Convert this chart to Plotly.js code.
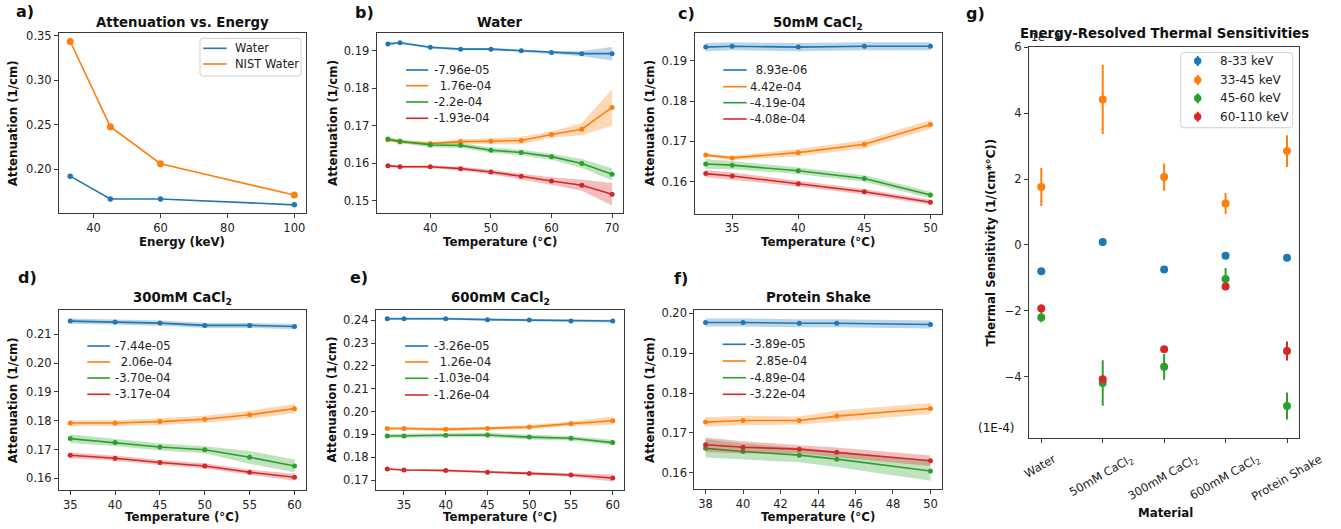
<!DOCTYPE html>
<html><head><meta charset="utf-8">
<script src="https://cdn.plot.ly/plotly-3.0.1.min.js"></script>
<style>html,body{margin:0;padding:0;background:#fff}#chart{width:1341px;height:529px}</style>
</head><body><div id="chart"></div>
<script>
// ================= DATA =================
// a) Attenuation vs. energy
const energyKeV = [33, 45, 60, 100];
const attWater  = [0.1920, 0.1663, 0.1663, 0.1597];
const attNIST   = [0.3436, 0.2477, 0.2060, 0.1707];
const energyLegend = ['Water', 'NIST Water'];

// energy bins
const binLabels = ['8-33 keV', '33-45 keV', '45-60 keV', '60-110 keV'];

// b) Water
const tWater = [33, 35, 40, 45, 50, 55, 60, 65, 70];
const water_8_33      = [0.1918, 0.1921, 0.1909, 0.1904, 0.1904, 0.1900, 0.1895, 0.1892, 0.1892];
const water_8_33_sd   = [0.0003, 0.0003, 0.0003, 0.0003, 0.0003, 0.0003, 0.0004, 0.0007, 0.0018];
const water_33_45     = [0.1663, 0.1657, 0.1653, 0.1658, 0.1659, 0.1661, 0.1677, 0.1691, 0.1749];
const water_33_45_sd  = [0.0004, 0.0004, 0.0004, 0.0006, 0.0008, 0.0010, 0.0008, 0.0016, 0.0049];
const water_45_60     = [0.1665, 0.1659, 0.1649, 0.1648, 0.1635, 0.1629, 0.1618, 0.1600, 0.1571];
const water_45_60_sd  = [0.0004, 0.0005, 0.0006, 0.0007, 0.0007, 0.0007, 0.0008, 0.0012, 0.0016];
const water_60_110    = [0.1594, 0.1591, 0.1591, 0.1586, 0.1577, 0.1566, 0.1553, 0.1542, 0.1518];
const water_60_110_sd = [0.0003, 0.0003, 0.0004, 0.0005, 0.0006, 0.0008, 0.0010, 0.0015, 0.0030];
const waterLabels = ['-7.96e-05', '\u20021.76e-04', '-2.2e-04', '-1.93e-04'];

// c) 50mM CaCl2
const t50 = [33, 35, 40, 45, 50];
const c50_8_33      = [0.1934, 0.1936, 0.1934, 0.1936, 0.1936];
const c50_8_33_sd   = [0.0010, 0.0010, 0.0010, 0.0010, 0.0010];
const c50_33_45     = [0.1666, 0.1659, 0.1672, 0.1693, 0.1742];
const c50_33_45_sd  = [0.0004, 0.0005, 0.0009, 0.0010, 0.0011];
const c50_45_60     = [0.1644, 0.1641, 0.1627, 0.1608, 0.1567];
const c50_45_60_sd  = [0.0012, 0.0010, 0.0008, 0.0008, 0.0008];
const c50_60_110    = [0.1620, 0.1614, 0.1595, 0.1575, 0.1549];
const c50_60_110_sd = [0.0009, 0.0009, 0.0007, 0.0007, 0.0006];
const c50Labels = ['\u20028.93e-06', '4.42e-04', '-4.19e-04', '-4.08e-04'];

// d) 300mM CaCl2
const t300 = [35, 40, 45, 50, 55, 60];
const c300_8_33      = [0.2146, 0.2143, 0.2139, 0.2131, 0.2131, 0.2127];
const c300_8_33_sd   = [0.0009, 0.0009, 0.0009, 0.0009, 0.0009, 0.0009];
const c300_33_45     = [0.1792, 0.1792, 0.1797, 0.1805, 0.1821, 0.1842];
const c300_33_45_sd  = [0.0010, 0.0010, 0.0012, 0.0012, 0.0014, 0.0016];
const c300_45_60     = [0.1738, 0.1724, 0.1709, 0.1699, 0.1673, 0.1643];
const c300_45_60_sd  = [0.0015, 0.0012, 0.0012, 0.0012, 0.0022, 0.0022];
const c300_60_110    = [0.1680, 0.1670, 0.1655, 0.1643, 0.1621, 0.1604];
const c300_60_110_sd = [0.0010, 0.0009, 0.0009, 0.0009, 0.0009, 0.0012];
const c300Labels = ['-7.44e-05', '\u20022.06e-04', '-3.70e-04', '-3.17e-04'];

// e) 600mM CaCl2
const t600 = [33, 35, 40, 45, 50, 55, 60];
const c600_8_33      = [0.2407, 0.2407, 0.2407, 0.2403, 0.2401, 0.2397, 0.2397];
const c600_8_33_sd   = [0.0005, 0.0005, 0.0005, 0.0005, 0.0005, 0.0005, 0.0006];
const c600_33_45     = [0.1926, 0.1926, 0.1922, 0.1926, 0.1932, 0.1947, 0.1960];
const c600_33_45_sd  = [0.0007, 0.0007, 0.0008, 0.0008, 0.0009, 0.0010, 0.0018];
const c600_45_60     = [0.1893, 0.1893, 0.1896, 0.1897, 0.1888, 0.1883, 0.1864];
const c600_45_60_sd  = [0.0009, 0.0009, 0.0009, 0.0010, 0.0010, 0.0010, 0.0012];
const c600_60_110    = [0.1748, 0.1744, 0.1742, 0.1734, 0.1729, 0.1722, 0.1709];
const c600_60_110_sd = [0.0004, 0.0004, 0.0005, 0.0005, 0.0006, 0.0008, 0.0015];
const c600Labels = ['-3.26e-05', '\u20021.26e-04', '-1.03e-04', '-1.26e-04'];

// f) Protein Shake
const tPS = [38, 40, 43, 45, 50];
const ps_8_33      = [0.1977, 0.1977, 0.1975, 0.1975, 0.1972];
const ps_8_33_sd   = [0.0010, 0.0010, 0.0010, 0.0010, 0.0010];
const ps_33_45     = [0.1727, 0.1731, 0.1731, 0.1742, 0.1761];
const ps_33_45_sd  = [0.0012, 0.0012, 0.0010, 0.0014, 0.0014];
const ps_45_60     = [0.1661, 0.1653, 0.1644, 0.1634, 0.1604];
const ps_45_60_sd  = [0.0023, 0.0020, 0.0018, 0.0020, 0.0024];
const ps_60_110    = [0.1670, 0.1664, 0.1659, 0.1651, 0.1630];
const ps_60_110_sd = [0.0018, 0.0015, 0.0010, 0.0012, 0.0013];
const psLabels = ['-3.89e-05', '\u20022.85e-04', '-4.89e-04', '-3.22e-04'];

// g) Energy-resolved thermal sensitivities (units of 1e-4 1/(cm*°C))
const materials = ['Water', '50mM CaCl<sub>2</sub>', '300mM CaCl<sub>2</sub>', '600mM CaCl<sub>2</sub>', 'Protein Shake'];
const sens_8_33      = [-0.796, 0.0893, -0.744, -0.326, -0.389];
const sens_8_33_err  = [0.06, 0.06, 0.06, 0.06, 0.06];
const sens_33_45     = [1.76, 4.42, 2.06, 1.26, 2.85];
const sens_33_45_err = [0.58, 1.05, 0.41, 0.32, 0.48];
const sens_45_60     = [-2.20, -4.19, -3.70, -1.03, -4.89];
const sens_45_60_err = [0.15, 0.69, 0.39, 0.33, 0.41];
const sens_60_110    = [-1.93, -4.08, -3.17, -1.26, -3.22];
const sens_60_110_err= [0.12, 0.06, 0.10, 0.06, 0.29];

// ================= STYLE / LAYOUT =================
const W = 1341, H = 529;
const X = v => v / W, Y = v => 1 - v / H;
const COLORS = ['#1f77b4', '#ff7f0e', '#2ca02c', '#d62728'];
const FILLS = ['rgba(31,119,180,0.3)', 'rgba(255,127,14,0.3)', 'rgba(44,160,44,0.3)', 'rgba(214,39,40,0.3)'];
const FONT = 'DejaVu Sans, sans-serif';
const TXT = '#222';

// axes pixel boxes [left, top, right, bottom]
const boxes = {
  1: [59, 33, 305.5, 213],
  2: [376.7, 33, 623.3, 213],
  3: [694.5, 33, 941.7, 213.5],
  4: [59, 310, 305.7, 490],
  5: [376, 310, 624, 490],
  6: [694.3, 310, 941.7, 489],
  7: [1029, 46.7, 1299.3, 438.3]
};

const traces = [];
const shapes = [];
const annotations = [];

function ann(text, x, y, opt) {
  annotations.push(Object.assign({
    text: text, x: X(x), y: Y(y), xref: 'paper', yref: 'paper',
    showarrow: false, xanchor: 'center', yanchor: 'middle',
    font: {family: FONT, size: 11, color: TXT}
  }, opt || {}));
}

function bandPanel(ax, xs, series, sds) {
  const xr = 'x' + ax, yr = 'y' + ax;
  series.forEach((ys, i) => {
    const sd = sds[i];
    const up = ys.map((v, k) => v + sd[k]);
    const lo = ys.map((v, k) => v - sd[k]);
    traces.push({
      x: xs.concat(xs.slice().reverse()), y: up.concat(lo.slice().reverse()),
      xaxis: xr, yaxis: yr, mode: 'lines', fill: 'toself', fillcolor: FILLS[i],
      line: {width: 0, color: FILLS[i]}, hoverinfo: 'skip'
    });
    traces.push({
      x: xs, y: ys, xaxis: xr, yaxis: yr, mode: 'lines+markers',
      line: {color: COLORS[i], width: 1.6}, marker: {color: COLORS[i], size: 5}
    });
  });
}

function lineLegend(labels, lx0, lx1, tx, ys, colors) {
  labels.forEach((lab, i) => {
    shapes.push({type: 'line', xref: 'paper', yref: 'paper', layer: 'above',
      x0: X(lx0), x1: X(lx1), y0: Y(ys[i]), y1: Y(ys[i]),
      line: {color: colors[i], width: 1.6}});
    ann(lab, tx, ys[i], {xanchor: 'left', font: {family: FONT, size: 11.5, color: TXT}});
  });
}

function roundRect(x0, y0, x1, y1, r) {
  const p = (a, b) => X(a) + ',' + Y(b);
  return 'M' + p(x0 + r, y0) + ' L' + p(x1 - r, y0) + ' Q' + p(x1, y0) + ' ' + p(x1, y0 + r) +
    ' L' + p(x1, y1 - r) + ' Q' + p(x1, y1) + ' ' + p(x1 - r, y1) +
    ' L' + p(x0 + r, y1) + ' Q' + p(x0, y1) + ' ' + p(x0, y1 - r) +
    ' L' + p(x0, y0 + r) + ' Q' + p(x0, y0) + ' ' + p(x0 + r, y0) + ' Z';
}

// ---- panel a ----
traces.push({x: energyKeV, y: attWater, xaxis: 'x', yaxis: 'y', mode: 'lines+markers',
  line: {color: COLORS[0], width: 1.6}, marker: {color: COLORS[0], size: 5.5}});
traces.push({x: energyKeV, y: attNIST, xaxis: 'x', yaxis: 'y', mode: 'lines+markers',
  line: {color: COLORS[1], width: 1.6}, marker: {color: COLORS[1], size: 7}});
shapes.push({type: 'path', xref: 'paper', yref: 'paper', layer: 'above',
  path: roundRect(200, 38.3, 301, 76, 3), fillcolor: 'rgba(255,255,255,0.8)',
  line: {color: '#d0d0d0', width: 1}});
lineLegend(energyLegend, 203.3, 226.7, 233, [48.3, 64], COLORS);

// ---- panels b-f ----
bandPanel(2, tWater, [water_8_33, water_33_45, water_45_60, water_60_110],
  [water_8_33_sd, water_33_45_sd, water_45_60_sd, water_60_110_sd]);
bandPanel(3, t50, [c50_8_33, c50_33_45, c50_45_60, c50_60_110],
  [c50_8_33_sd, c50_33_45_sd, c50_45_60_sd, c50_60_110_sd]);
bandPanel(4, t300, [c300_8_33, c300_33_45, c300_45_60, c300_60_110],
  [c300_8_33_sd, c300_33_45_sd, c300_45_60_sd, c300_60_110_sd]);
bandPanel(5, t600, [c600_8_33, c600_33_45, c600_45_60, c600_60_110],
  [c600_8_33_sd, c600_33_45_sd, c600_45_60_sd, c600_60_110_sd]);
bandPanel(6, tPS, [ps_8_33, ps_33_45, ps_45_60, ps_60_110],
  [ps_8_33_sd, ps_33_45_sd, ps_45_60_sd, ps_60_110_sd]);

lineLegend(waterLabels, 406, 428.3, 431.7, [70, 85.7, 102, 118.3], COLORS);
lineLegend(c50Labels, 723.3, 746.7, 748.3, [70, 86.7, 102.7, 119], COLORS);
lineLegend(c300Labels, 87.3, 110, 113.3, [346, 362, 378, 394.3], COLORS);
lineLegend(c600Labels, 405, 428.3, 431.7, [346, 362, 378.3, 395], COLORS);
lineLegend(psLabels, 722.7, 746, 748.3, [344.3, 361, 377.7, 394.3], COLORS);

// ---- panel g ----
[[sens_8_33, sens_8_33_err], [sens_33_45, sens_33_45_err], [sens_45_60, sens_45_60_err], [sens_60_110, sens_60_110_err]]
  .forEach((s, i) => {
    traces.push({x: materials, y: s[0], xaxis: 'x7', yaxis: 'y7', mode: 'markers',
      marker: {color: COLORS[i], size: 8},
      error_y: {type: 'data', array: s[1], visible: true, thickness: 2, width: 0, color: COLORS[i]}});
  });
shapes.push({type: 'path', xref: 'paper', yref: 'paper', layer: 'above',
  path: roundRect(1180.7, 52.7, 1292.7, 127.7, 3), fillcolor: 'rgba(255,255,255,0.8)',
  line: {color: '#d0d0d0', width: 1}});
const gLegY = [61, 80, 98.3, 116.7];
binLabels.forEach((lab, i) => {
  const cx = 1197.7, cy = gLegY[i];
  shapes.push({type: 'line', xref: 'paper', yref: 'paper', layer: 'above',
    x0: X(cx), x1: X(cx), y0: Y(cy - 5), y1: Y(cy + 5), line: {color: COLORS[i], width: 2}});
  shapes.push({type: 'circle', xref: 'paper', yref: 'paper', layer: 'above',
    x0: X(cx - 3.7), x1: X(cx + 3.7), y0: Y(cy + 3.7), y1: Y(cy - 3.7),
    fillcolor: COLORS[i], line: {width: 0}});
  ann(lab, 1218.3, cy, {xanchor: 'left', font: {family: FONT, size: 12, color: TXT}});
});
materials.forEach((m, i) => {
  annotations.push({text: m, x: i, xref: 'x7', y: Y(449), yref: 'paper', yanchor: 'top',
    xanchor: 'center', xshift: -1, textangle: -30, showarrow: false,
    font: {family: FONT, size: 11.5, color: TXT}});
});

// ---- axes ----
const axRanges = {
  1: {x: [29.65, 103.35], y: [0.1505, 0.3532], xt: [40, 60, 80, 100], yt: [0.20, 0.25, 0.30, 0.35]},
  2: {x: [31.15, 71.85], y: [0.1468, 0.1947], xt: [40, 50, 60, 70], yt: [0.15, 0.16, 0.17, 0.18, 0.19]},
  3: {x: [32.15, 50.85], y: [0.1521, 0.1969], xt: [35, 40, 45, 50], yt: [0.16, 0.17, 0.18, 0.19]},
  4: {x: [33.75, 61.25], y: [0.15595, 0.21845], xt: [35, 40, 45, 50, 55, 60], yt: [0.16, 0.17, 0.18, 0.19, 0.20, 0.21]},
  5: {x: [31.65, 61.35], y: [0.16562, 0.24453], xt: [35, 40, 45, 50, 55, 60], yt: [0.17, 0.18, 0.19, 0.20, 0.21, 0.22, 0.23, 0.24]},
  6: {x: [37.4, 50.6], y: [0.1559, 0.20084], xt: [38, 40, 42, 44, 46, 48, 50], yt: [0.16, 0.17, 0.18, 0.19, 0.20]},
  7: {x: [-0.2, 4.2], y: [-5.87, 6.02], xt: null, yt: [-4, -2, 0, 2, 4, 6]}
};
const layout = {
  width: W, height: H, autosize: false, margin: {l: 0, r: 0, t: 0, b: 0},
  paper_bgcolor: '#fff', plot_bgcolor: '#fff', showlegend: false,
  shapes: shapes, annotations: annotations
};
const baseAx = {
  showline: true, mirror: true, linecolor: '#3a3a3a', linewidth: 1,
  ticks: 'outside', ticklen: 4, tickwidth: 1, tickcolor: '#3a3a3a',
  showgrid: false, zeroline: false, fixedrange: true,
  tickfont: {family: FONT, size: 11.5, color: TXT}
};
for (let i = 1; i <= 7; i++) {
  const b = boxes[i], r = axRanges[i], s = i === 1 ? '' : String(i);
  const xa = Object.assign({}, baseAx, {domain: [X(b[0]), X(b[2])], range: r.x, anchor: 'y' + s});
  if (i === 7) {
    Object.assign(xa, {type: 'category', categoryorder: 'array', categoryarray: materials, showticklabels: false});
  } else {
    Object.assign(xa, {tickmode: 'array', tickvals: r.xt});
  }
  const ya = Object.assign({}, baseAx, {domain: [Y(b[3]), Y(b[1])], range: r.y, anchor: 'x' + s,
    tickmode: 'array', tickvals: r.yt, tickformat: i === 7 ? 'd' : '.2f'});
  layout['xaxis' + s] = xa;
  layout['yaxis' + s] = ya;
}

// ---- text: titles, labels, panel letters ----
const bold = t => '<b>' + t + '</b>';
const TF = {family: FONT, size: 13.3, color: '#111'};
const LF = {family: FONT, size: 11.8, color: '#111'};
const PF = {family: FONT, size: 16, color: '#111'};
// offset text partly hidden under the title in panel g (as in the reference)
ann('1e\u22124', 1029, 46, {xanchor: 'left', yanchor: 'bottom', font: {family: FONT, size: 11, color: TXT}});

ann(bold('Attenuation vs. Energy'), 182.3, 22.7, {font: TF});
ann(bold('Water'), 500, 22.7, {font: TF});
ann(bold('50mM CaCl<sub>2</sub>'), 818, 23.5, {font: TF});
ann(bold('300mM CaCl<sub>2</sub>'), 182.3, 298.3, {font: TF});
ann(bold('600mM CaCl<sub>2</sub>'), 500, 298.3, {font: TF});
ann(bold('Protein Shake'), 818, 297.7, {font: TF});
ann(bold('Energy-Resolved Thermal Sensitivities'), 1164, 33.3, {font: TF});

ann(bold('a)'), 25, 12, {font: PF});
ann(bold('b)'), 364, 12.5, {font: PF});
ann(bold('c)'), 686, 13, {font: PF});
ann(bold('g)'), 975, 13, {font: PF});
ann(bold('d)'), 27, 277.5, {font: PF});
ann(bold('e)'), 359, 277.5, {font: PF});
ann(bold('f)'), 681, 278, {font: PF});

ann(bold('Energy (keV)'), 182.3, 241.7, {font: LF});
ann(bold('Temperature (°C)'), 500, 241.7, {font: LF});
ann(bold('Temperature (°C)'), 818, 241.7, {font: LF});
ann(bold('Temperature (°C)'), 182.3, 516.7, {font: LF});
ann(bold('Temperature (°C)'), 500, 516.7, {font: LF});
ann(bold('Temperature (°C)'), 818, 516.7, {font: LF});
ann(bold('Material'), 1165, 512.7, {font: LF});

ann(bold('Attenuation (1/cm)'), 13.3, 123, {font: LF, textangle: -90});
ann(bold('Attenuation (1/cm)'), 333, 123, {font: LF, textangle: -90});
ann(bold('Attenuation (1/cm)'), 650, 123, {font: LF, textangle: -90});
ann(bold('Attenuation (1/cm)'), 13.3, 400, {font: LF, textangle: -90});
ann(bold('Attenuation (1/cm)'), 331.5, 400, {font: LF, textangle: -90});
ann(bold('Attenuation (1/cm)'), 650, 400, {font: LF, textangle: -90});
ann(bold('Thermal Sensitivity (1/(cm*°C))'), 990, 242.5, {font: LF, textangle: -90});
ann('(1E-4)', 996, 428, {font: {family: FONT, size: 12, color: '#111'}});

Plotly.newPlot('chart', traces, layout, {displayModeBar: false, staticPlot: true});
</script>
</body></html>
